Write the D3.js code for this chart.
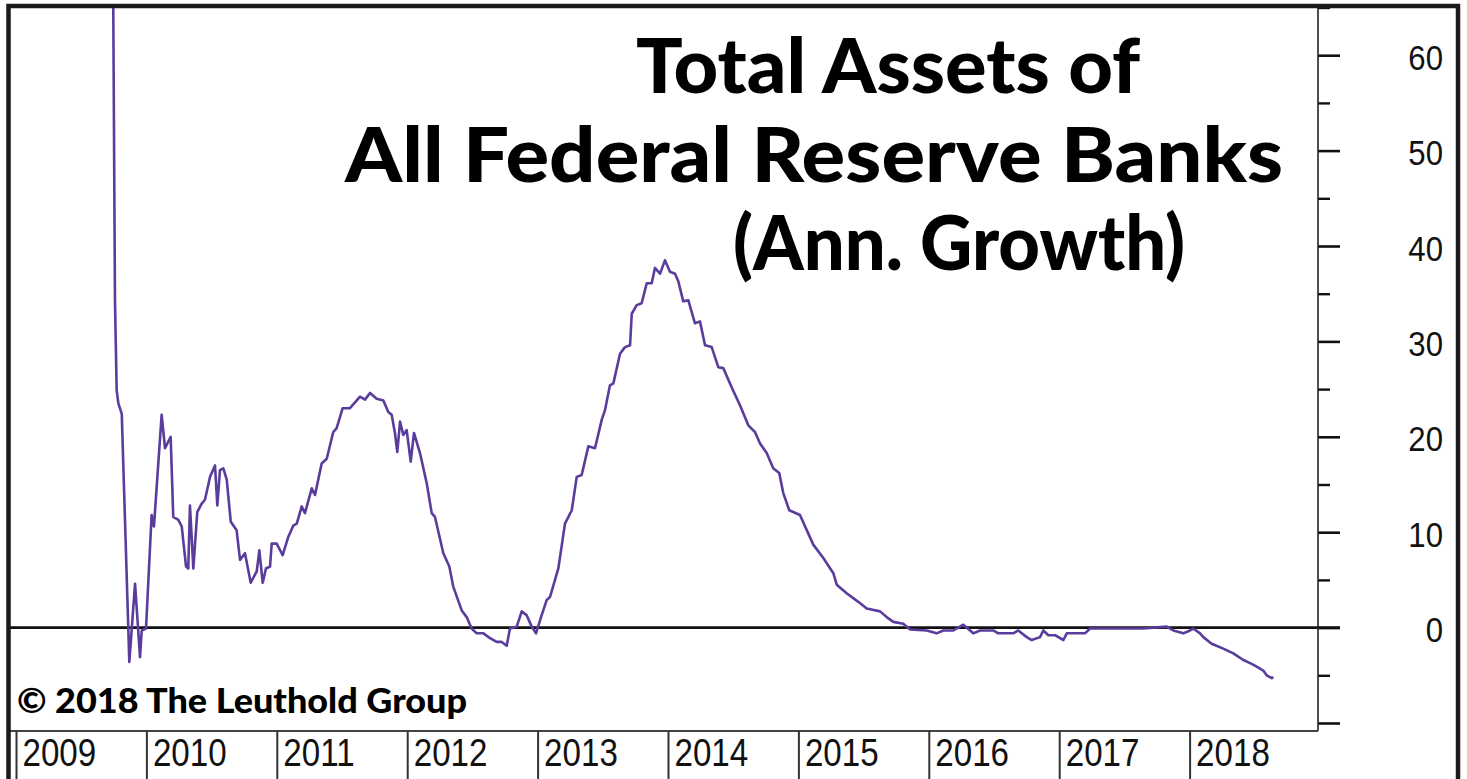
<!DOCTYPE html>
<html>
<head>
<meta charset="utf-8">
<script src="https://cdn.jsdelivr.net/npm/d3@7"></script>
<style>
  body { margin: 0; background: #fff; }
  svg { display: block; }
</style>
</head>
<body>
<div id="chart_div"></div>
<script>
// year labels along the bottom band
var years = [2009, 2010, 2011, 2012, 2013, 2014, 2015, 2016, 2017, 2018];
// right axis ticks
var yMajor = [-10, 0, 10, 20, 30, 40, 50, 60];
var yMinor = [-5, 5, 15, 25, 35, 45, 55, 65];

// weekly series (decimal year, annual growth %)
var t = [2009.740, 2009.746, 2009.759, 2009.772, 2009.785, 2009.811, 2009.869, 2009.913, 2009.951, 2009.964,
  2009.997, 2010.040, 2010.058, 2010.117, 2010.143, 2010.186, 2010.206, 2010.245, 2010.271, 2010.304,
  2010.321, 2010.334, 2010.360, 2010.390, 2010.424, 2010.449, 2010.488, 2010.526, 2010.544, 2010.564,
  2010.590, 2010.616, 2010.647, 2010.692, 2010.718, 2010.756, 2010.800, 2010.846, 2010.866, 2010.892,
  2010.917, 2010.948, 2010.961, 2010.999, 2011.045, 2011.088, 2011.127, 2011.153, 2011.191, 2011.216,
  2011.268, 2011.293, 2011.344, 2011.383, 2011.433, 2011.459, 2011.505, 2011.561, 2011.638, 2011.676,
  2011.715, 2011.766, 2011.817, 2011.855, 2011.881, 2011.906, 2011.924, 2011.945, 2011.970, 2011.996,
  2012.027, 2012.052, 2012.098, 2012.150, 2012.188, 2012.213, 2012.277, 2012.323, 2012.353, 2012.418,
  2012.456, 2012.494, 2012.533, 2012.584, 2012.635, 2012.686, 2012.725, 2012.763, 2012.788, 2012.840,
  2012.878, 2012.916, 2012.955, 2012.988, 2013.024, 2013.070, 2013.095, 2013.159, 2013.210, 2013.262,
  2013.300, 2013.338, 2013.389, 2013.440, 2013.492, 2013.517, 2013.555, 2013.581, 2013.632, 2013.670,
  2013.709, 2013.722, 2013.760, 2013.798, 2013.837, 2013.875, 2013.900, 2013.939, 2013.977, 2014.015,
  2014.054, 2014.079, 2014.117, 2014.156, 2014.207, 2014.245, 2014.284, 2014.335, 2014.386, 2014.424,
  2014.488, 2014.552, 2014.616, 2014.667, 2014.706, 2014.757, 2014.807, 2014.853, 2014.884, 2014.930,
  2015.012, 2015.114, 2015.191, 2015.268, 2015.294, 2015.370, 2015.459, 2015.524, 2015.626, 2015.677,
  2015.728, 2015.804, 2015.856, 2015.984, 2016.060, 2016.111, 2016.188, 2016.265, 2016.341, 2016.393,
  2016.495, 2016.533, 2016.648, 2016.686, 2016.751, 2016.789, 2016.853, 2016.878, 2016.917, 2016.968,
  2017.032, 2017.058, 2017.198, 2017.236, 2017.568, 2017.645, 2017.824, 2017.875, 2017.952, 2018.003,
  2018.028, 2018.080, 2018.105, 2018.169, 2018.258, 2018.335, 2018.412, 2018.476, 2018.514, 2018.565,
  2018.591, 2018.630, 2018.642];
var growth = [75.0, 64.9, 34.3, 24.9, 23.5, 22.4, -3.6, 4.6, -3.1, -0.3,
  -0.1, 11.8, 10.6, 22.3, 18.8, 20.0, 11.6, 11.3, 10.6, 6.4,
  6.2, 12.8, 6.2, 12.1, 13.0, 13.4, 15.8, 17.0, 12.8, 16.5,
  16.7, 15.5, 11.1, 10.2, 7.1, 7.8, 4.7, 5.9, 8.1, 4.7,
  6.2, 6.4, 8.8, 8.8, 7.6, 9.5, 10.7, 10.9, 12.7, 12.0,
  14.6, 13.9, 17.2, 17.7, 20.5, 20.9, 23.0, 23.0, 24.2, 23.9,
  24.6, 24.0, 23.8, 22.6, 22.3, 20.4, 18.4, 21.6, 20.2, 20.7,
  17.4, 20.4, 18.3, 15.1, 12.0, 11.6, 7.8, 6.4, 4.3, 1.8,
  1.1, -0.1, -0.6, -0.6, -1.1, -1.5, -1.5, -1.9, -0.1, 0.1,
  1.7, 1.3, 0.1, -0.6, 1.0, 2.9, 3.2, 6.2, 10.9, 12.3,
  15.8, 16.0, 19.0, 18.8, 21.8, 22.8, 25.4, 25.6, 28.7, 29.4,
  29.6, 32.9, 33.8, 34.0, 36.1, 36.1, 37.7, 37.1, 38.5, 37.3,
  37.1, 36.3, 34.2, 34.3, 31.9, 32.1, 29.6, 29.4, 27.3, 27.2,
  25.2, 23.3, 21.2, 20.5, 19.3, 18.3, 16.7, 16.2, 14.1, 12.3,
  11.8, 8.7, 7.3, 5.7, 4.5, 3.6, 2.7, 2.0, 1.7, 1.1,
  0.6, 0.4, -0.2, -0.3, -0.6, -0.3, -0.3, 0.3, -0.6, -0.3,
  -0.3, -0.6, -0.6, -0.3, -1.0, -1.3, -1.0, -0.3, -0.8, -0.8,
  -1.3, -0.6, -0.6, -0.1, -0.1, -0.1, 0.1, -0.3, -0.6, -0.3,
  -0.1, -0.6, -1.0, -1.7, -2.2, -2.7, -3.4, -3.8, -4.1, -4.5,
  -5.0, -5.3, -5.2];

var data = t.map(function(d, i) { return {t: d, v: growth[i]}; });

var all_width = 1467, all_height = 779;
var plotLeft = 10, plotTop = 8, plotRight = 1318, bandTop = 731;

var svg = d3.select("#chart_div")
  .append("svg")
    .attr("width", all_width)
    .attr("height", all_height);

var x = d3.scaleLinear().domain([2009, 2019]).range([16, 1320]);
var y = d3.scaleLinear().domain([-10, 65]).range([723, 7.5]);

// clip the series to the plot box
svg.append("clipPath").attr("id", "plotclip")
  .append("rect")
    .attr("x", plotLeft).attr("y", plotTop)
    .attr("width", plotRight - plotLeft).attr("height", bandTop - plotTop);

// zero line (runs through the axis like a major tick)
svg.append("line")
  .attr("x1", plotLeft).attr("x2", plotRight + 22)
  .attr("y1", y(0)).attr("y2", y(0))
  .attr("stroke", "#111").attr("stroke-width", 2.6);

// the series
var line = d3.line()
  .x(function(d) { return x(d.t); })
  .y(function(d) { return y(d.v); });

svg.append("path")
  .datum(data)
  .attr("clip-path", "url(#plotclip)")
  .attr("d", line)
  .attr("fill", "none")
  .attr("stroke", "#5a3c9c")
  .attr("stroke-width", 2.6)
  .attr("stroke-linejoin", "round");

// right axis: minor ticks
svg.append("g")
  .attr("transform", "translate(" + plotRight + ",0)")
  .call(d3.axisRight(y).tickValues(yMinor).tickSize(12).tickFormat(""))
  .call(function(g) {
    g.select(".domain").remove();
    g.selectAll(".tick line").attr("stroke", "#111").attr("stroke-width", 2.4);
  });

// right axis: major ticks + labels
svg.append("g")
  .attr("transform", "translate(" + plotRight + ",0)")
  .call(d3.axisRight(y).tickValues(yMajor).tickSize(22).tickFormat(function(d) { return d === -10 ? "" : d; }))
  .call(function(g) {
    g.select(".domain").remove();
    g.selectAll(".tick line").attr("stroke", "#111").attr("stroke-width", 2.6);
    g.selectAll(".tick text")
      .attr("x", null).attr("dy", null)
      .attr("text-anchor", "end")
      .attr("transform", "translate(125,14) scale(0.89,1)")
      .attr("fill", "#111")
      .style("font-family", "'Liberation Sans', Arial, sans-serif")
      .style("font-size", "35px");
  });

// axis line
svg.append("line")
  .attr("x1", plotRight).attr("x2", plotRight)
  .attr("y1", plotTop).attr("y2", bandTop)
  .attr("stroke", "#222").attr("stroke-width", 1.6);

// year band
svg.append("line")
  .attr("x1", plotLeft).attr("x2", plotRight)
  .attr("y1", bandTop).attr("y2", bandTop)
  .attr("stroke", "#444").attr("stroke-width", 2);

svg.append("g")
  .attr("transform", "translate(0," + bandTop + ")")
  .call(d3.axisBottom(x).tickValues(years).tickSize(50).tickFormat(d3.format("d")))
  .call(function(g) {
    g.select(".domain").remove();
    g.selectAll(".tick line").attr("stroke", "#333").attr("stroke-width", 2);
    g.selectAll(".tick text")
      .attr("y", null).attr("dy", null)
      .attr("text-anchor", "start")
      .attr("transform", "translate(6,35) scale(0.85,1)")
      .attr("fill", "#111")
      .style("font-family", "'Liberation Sans', Arial, sans-serif")
      .style("font-size", "39px");
  });

// title
var titleFont = "Lato, 'Open Sans', sans-serif";
var titleLines = [
  {text: "Total Assets of", x: 636, y: 93, w: 504},
  {text: "All Federal Reserve Banks", x: 345, y: 182, w: 938},
  {text: "(Ann. Growth)", x: 733, y: 270, w: 452}
];
svg.selectAll("titleLines")
  .data(titleLines)
  .enter()
  .append("text")
    .attr("x", function(d) { return d.x; })
    .attr("y", function(d) { return d.y; })
    .attr("textLength", function(d) { return d.w; })
    .attr("lengthAdjust", "spacingAndGlyphs")
    .style("font-family", titleFont)
    .style("font-weight", "900")
    .style("font-size", "76px")
    .attr("fill", "#000")
    .text(function(d) { return d.text; });

// copyright
svg.append("text")
  .attr("x", 17).attr("y", 713)
  .attr("textLength", 450)
  .attr("lengthAdjust", "spacingAndGlyphs")
  .style("font-family", titleFont)
  .style("font-weight", "900")
  .style("font-size", "34px")
  .attr("fill", "#000")
  .text("\u00a9 2018 The Leuthold Group");

// outer frame
svg.append("rect")
  .attr("x", 8.5).attr("y", 6)
  .attr("width", 1458 - 8.5).attr("height", 790)
  .attr("fill", "none")
  .attr("stroke", "#1a1a1a")
  .attr("stroke-width", 4.5);
</script>
</body>
</html>
